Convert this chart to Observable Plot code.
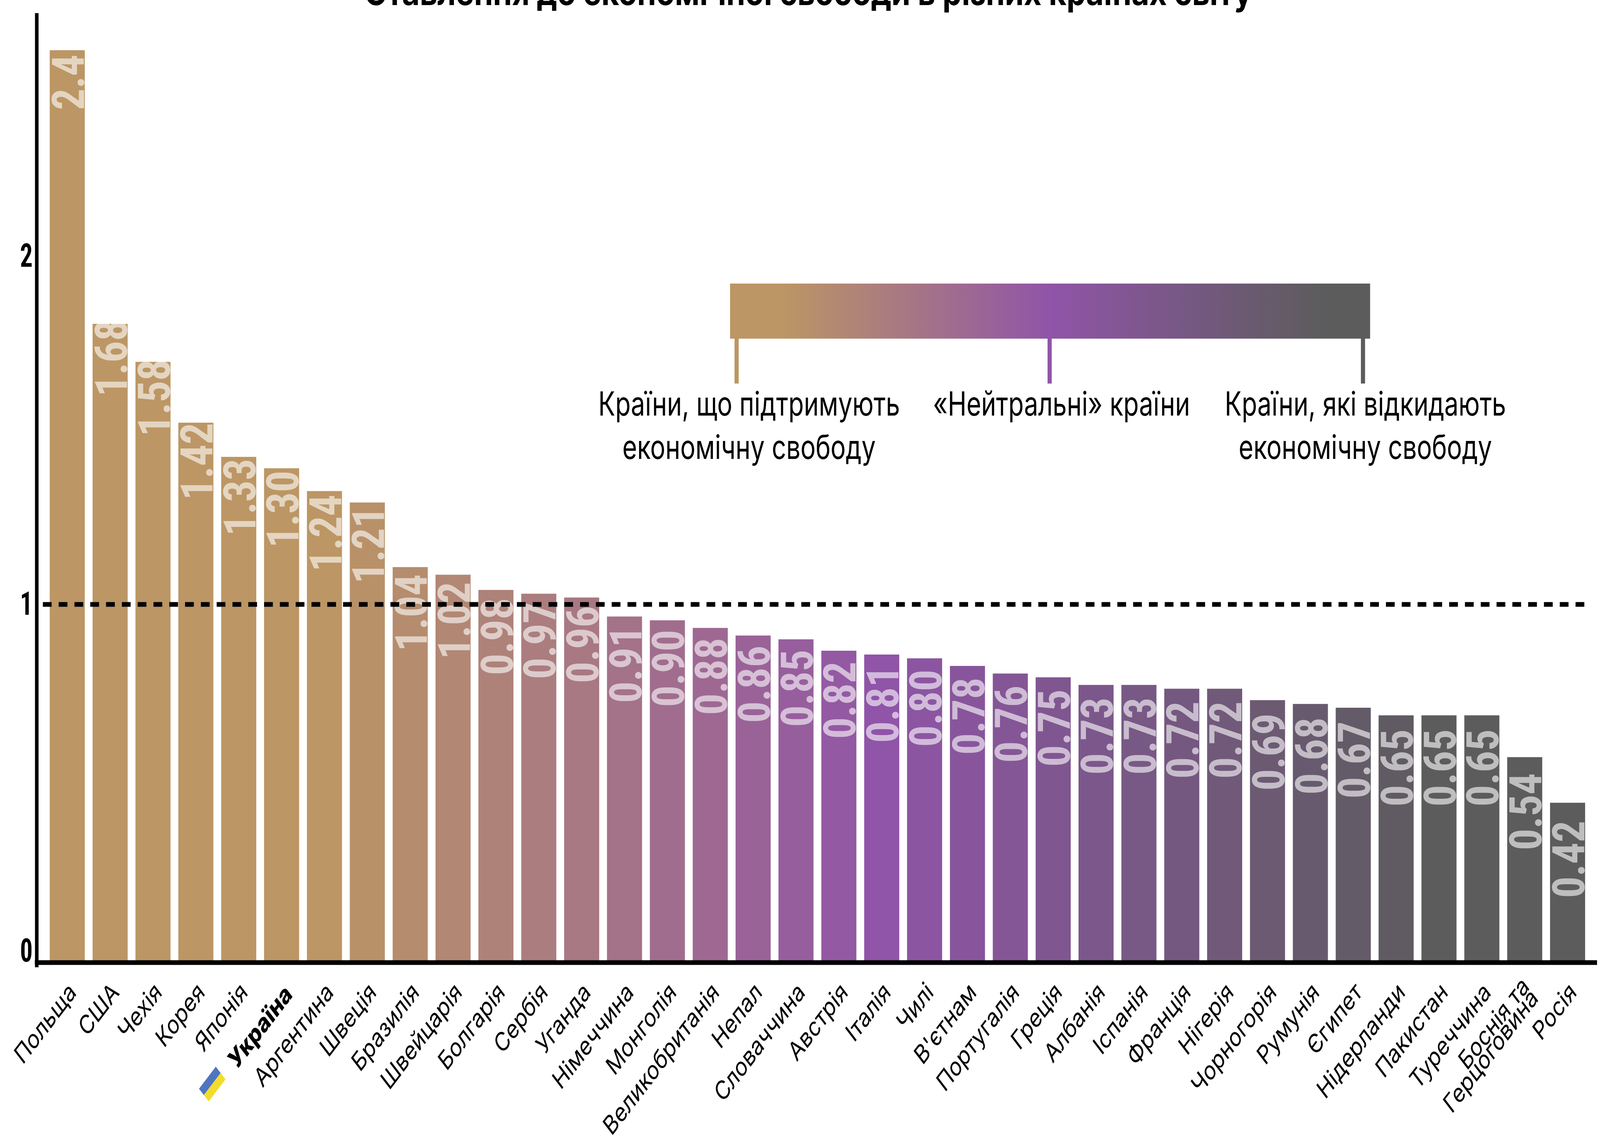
<!DOCTYPE html>
<html lang="uk">
<head>
<meta charset="utf-8">
<script src="https://cdn.jsdelivr.net/npm/d3@7"></script>
<script src="https://cdn.jsdelivr.net/npm/@observablehq/plot@0.6"></script>
<style>
html,body{margin:0;padding:0;background:#fff;overflow:hidden}
#wrap{position:absolute;left:0;top:0;width:5387px;height:2929px;overflow:hidden;transform-origin:0 0}
#ramp{position:absolute;left:2458px;top:726px;width:2155px;height:141px;background:linear-gradient(90deg,#BC9664 8%,#9054A8 50%,#5C5C5C 93%)}
.tk{position:absolute;top:867px;width:14px;height:115px}
.lg{position:absolute;top:978px;transform:translateX(-50%);font:400 85px/111px Inter,sans-serif;color:#000;text-align:center;white-space:nowrap}
</style>
</head>
<body>
<div id="wrap"></div>
<script>
const titleText = "Ставлення до економічної свободи в різних країнах світу";
const countries = ["Польща","США","Чехія","Корея","Японія","Україна","Аргентина","Швеція","Бразилія","Швейцарія","Болгарія","Сербія","Уганда","Німеччина","Монголія","Великобританія","Непал","Словаччина","Австрія","Італія","Чилі","В'єтнам","Португалія","Греція","Албанія","Іспанія","Франція","Нігерія","Чорногорія","Румунія","Єгипет","Нідерланди","Пакистан","Туреччина","Боснія та\nГерцоговина","Росія"];
const values = [2.4,1.68,1.58,1.42,1.33,1.30,1.24,1.21,1.04,1.02,0.98,0.97,0.96,0.91,0.90,0.88,0.86,0.85,0.82,0.81,0.80,0.78,0.76,0.75,0.73,0.73,0.72,0.72,0.69,0.68,0.67,0.65,0.65,0.65,0.54,0.42];
const valueLabels = ["2.4","1.68","1.58","1.42","1.33","1.30","1.24","1.21","1.04","1.02","0.98","0.97","0.96","0.91","0.90","0.88","0.86","0.85","0.82","0.81","0.80","0.78","0.76","0.75","0.73","0.73","0.72","0.72","0.69","0.68","0.67","0.65","0.65","0.65","0.54","0.42"];
const yTickPositions = [0.03,0.9424,1.858];
const yTickLabels = ["0","1","2"];
const referenceLevel = 0.9424;
const colorRanks = [6,19,32];
const colorRange = ["#BC9664","#9054A8","#5C5C5C"];
const legendTexts = [["Країни, що підтримують<br>економічну свободу",2522,"#BC9664",2480],["«Нейтральні» країни",3574,"#9054A8",3534],["Країни, які відкидають<br>економічну свободу",4597,"#5C5C5C",4589]];

const rows = countries.map((c,i)=>({country:c,value:values[i],label:valueLabels[i],rank:i}));
const narrow = '"Roboto Condensed","DejaVu Sans Condensed",sans-serif';
const halfFlag = sign => ({draw(ctx){
  const a=Math.SQRT1_2;
  const pts=[[-40,0],[40,0],[40,sign*23],[-40,sign*23]].map(([x,y])=>[(x+y)*a,(y-x)*a]);
  ctx.moveTo(...pts[0]);pts.slice(1).forEach(p=>ctx.lineTo(...p));ctx.closePath();
}});
const others = countries.filter(c=>c!=="Україна");

const plot = Plot.plot({
  width:5387,height:2929,marginLeft:154.3,marginRight:37,marginTop:39,marginBottom:465,
  style:{background:"#fff",fontFamily:"Inter,sans-serif",overflow:"visible",maxWidth:"none"},
  x:{type:"band",domain:countries,paddingInner:0.182,paddingOuter:0.091,round:false,axis:null},
  y:{domain:[0,2.492],axis:null},
  color:{type:"linear",domain:colorRanks,range:colorRange,clamp:true,interpolate:"rgb"},
  marks:[
    Plot.barY(rows,{x:"country",y:"value",fill:"rank"}),
    Plot.text(rows,{x:"country",y:d=>d.value*1.047-0.27,text:"label",rotate:-90,textAnchor:"start",lineAnchor:"middle",
      dx:8,fill:"#fff",fillOpacity:0.6,fontFamily:narrow,fontWeight:700,fontSize:150,className:"vals"}),
    Plot.ruleY([referenceLevel],{stroke:"#000",strokeWidth:12,strokeDasharray:"29.5,23.7",insetLeft:-10,insetRight:-7}),
    Plot.ruleY([0],{stroke:"#000",strokeWidth:12,insetLeft:-37,insetRight:-27}),
    Plot.frame({anchor:"left",stroke:"#000",strokeWidth:12,dx:-31,insetBottom:-6}),
    Plot.axisY({ticks:yTickPositions,tickFormat:(d,i)=>yTickLabels[i],tickSize:0,tickPadding:45,label:null,fontSize:84,fontWeight:700,fontFamily:narrow,lineAnchor:"middle"}),
    Plot.axisX({ticks:others,tickRotate:-45,tickSize:0,tickPadding:70,label:null,fontSize:67,textAnchor:"end",lineHeight:0.63,dx:24}),
    Plot.axisX({ticks:["Україна"],tickRotate:-45,tickSize:0,tickPadding:70,label:null,fontSize:67,fontWeight:800,textAnchor:"end",dx:24}),
    Plot.dot(["Україна"],{x:d=>d,frameAnchor:"bottom",symbol:halfFlag(-1),fill:"#4F74C0",stroke:"none",dx:-234,dy:311}),
    Plot.dot(["Україна"],{x:d=>d,frameAnchor:"bottom",symbol:halfFlag(1),fill:"#F2DC2C",stroke:"none",dx:-234,dy:311}),
    Plot.text([titleText],{frameAnchor:"top",text:d=>d,fontSize:92,fontWeight:700,dx:-31,dy:-27,lineAnchor:"bottom",className:"ttl"})
  ]
});
const wrap=document.getElementById("wrap");
wrap.appendChild(plot);
const ramp=document.createElement("div");ramp.id="ramp";wrap.appendChild(ramp);
legendTexts.forEach(([t,cx,col,tx])=>{
  const k=document.createElement("div");k.className="tk";k.style.left=(tx-7)+"px";k.style.background=col;wrap.appendChild(k);
  const l=document.createElement("div");l.className="lg";l.style.left=cx+"px";l.innerHTML=t;wrap.appendChild(l);
});
// condense the value figures to the narrow proportions of the reference
d3.select(plot).selectAll(".vals text").each(function(){
  const w=this.getComputedTextLength();
  this.setAttribute("textLength",w*0.73);this.setAttribute("lengthAdjust","spacingAndGlyphs");
});
d3.select(plot).selectAll(".ttl text").each(function(){
  this.setAttribute("textLength",2990);this.setAttribute("lengthAdjust","spacingAndGlyphs");
});
// the window may be narrower than the chart: fit the whole chart to it
wrap.style.transform=`scale(${innerWidth/5387},${innerHeight/2929})`;
</script>
</body>
</html>
